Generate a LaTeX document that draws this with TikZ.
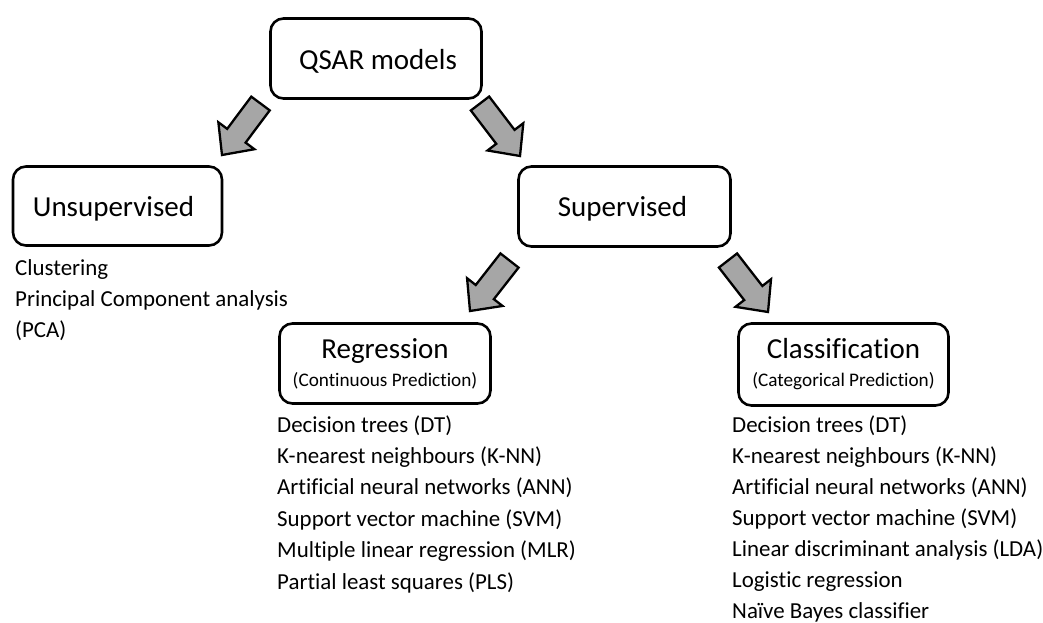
\documentclass[tikz,border=0pt]{standalone}
\usepackage{fontspec}
\setmainfont{Carlito}[Ligatures=NoCommon]
\usetikzlibrary{calc}
\definecolor{arrowgray}{RGB}{166,166,166}
\tikzset{
  box/.style={draw=black, line width=2.6pt, rounded corners=13pt, fill=white,
    align=center, font=\fontsize{29}{28}\selectfont, inner sep=0pt},
  item/.style={anchor=base west, inner sep=0pt, font=\fontsize{22.9}{27}\selectfont},
  blockarrow/.style={draw=black, line width=2.3pt, fill=arrowgray, line join=miter},
}
\newcommand\subtxt[1]{{\fontsize{19.2}{22}\selectfont #1}}
\newcommand\lowtxt[1]{\raisebox{-2.5pt}[\height][\depth]{#1}}
\newcommand\blockarr[2]{%
  \draw[blockarrow] let \p1=($(#2)-(#1)$), \n1={atan2(\y1,\x1)},
      \n2={veclen(\x1,\y1)-24}, \n3={\n1+90}, \n4={\n1-90} in
    ($(#1)+(\n3:11.5)$) -- ($(#1)+(\n1:\n2)+(\n3:11.5)$) -- ($(#1)+(\n1:\n2)+(\n3:22.5)$)
    -- (#2) -- ($(#1)+(\n1:\n2)+(\n4:22.5)$) -- ($(#1)+(\n1:\n2)+(\n4:11.5)$)
    -- ($(#1)+(\n4:11.5)$) -- cycle;}
\begin{document}
\begin{tikzpicture}[x=1pt,y=1pt]
\useasboundingbox (0,0) rectangle (1043,-623);
% boxes
\node[box, minimum width=211pt, minimum height=80pt] (qsar) at (376,-58.5) {\lowtxt{\hspace*{4pt}QSAR models}};
\node[box, minimum width=209pt, minimum height=79pt] (unsup) at (117.5,-206) {\lowtxt{Unsupervised\hspace*{8pt}}};
\node[box, minimum width=212pt, minimum height=80pt] (sup) at (624.5,-206.5) {\lowtxt{Supervised\hspace*{4pt}}};
\node[box, minimum width=211pt, minimum height=80pt] (reg) at (385,-363.5)
  {Regression\\\subtxt{(Continuous Prediction)}};
\node[box, minimum width=210pt, minimum height=82pt] (cls) at (843.5,-364.5)
  {Classification\\\subtxt{(Categorical Prediction)}};
% block arrows
\coordinate (a1s) at (260.5,-103.5); \coordinate (a1e) at (222,-155);
\coordinate (a2s) at (480,-103.5);   \coordinate (a2e) at (520,-156);
\coordinate (a3s) at (509.5,-260.5); \coordinate (a3e) at (470,-311);
\coordinate (a4s) at (728,-260.5);   \coordinate (a4e) at (768,-312);
\blockarr{a1s}{a1e}
\blockarr{a2s}{a2e}
\blockarr{a3s}{a3e}
\blockarr{a4s}{a4e}
% lists
\foreach \t [count=\i] in {Clustering, Principal Component analysis, (PCA)}
  \node[item] (u\i) at (15,{-275-31*(\i-1)}) {\t};
\foreach \t [count=\i] in {Decision trees (DT), K-nearest neighbours (K-NN),
    Artificial neural networks (ANN), Support vector machine (SVM),
    Multiple linear regression (MLR), Partial least squares (PLS)}
  \node[item] (r\i) at (277,{-432-31.4*(\i-1)}) {\t};
\foreach \t [count=\i] in {Decision trees (DT), K-nearest neighbours (K-NN),
    Artificial neural networks (ANN), Support vector machine (SVM),
    Linear discriminant analysis (LDA), Logistic regression, Naïve Bayes classifier}
  \node[item] (c\i) at (732,{-432-31*(\i-1)}) {\t};
\end{tikzpicture}
\end{document}
